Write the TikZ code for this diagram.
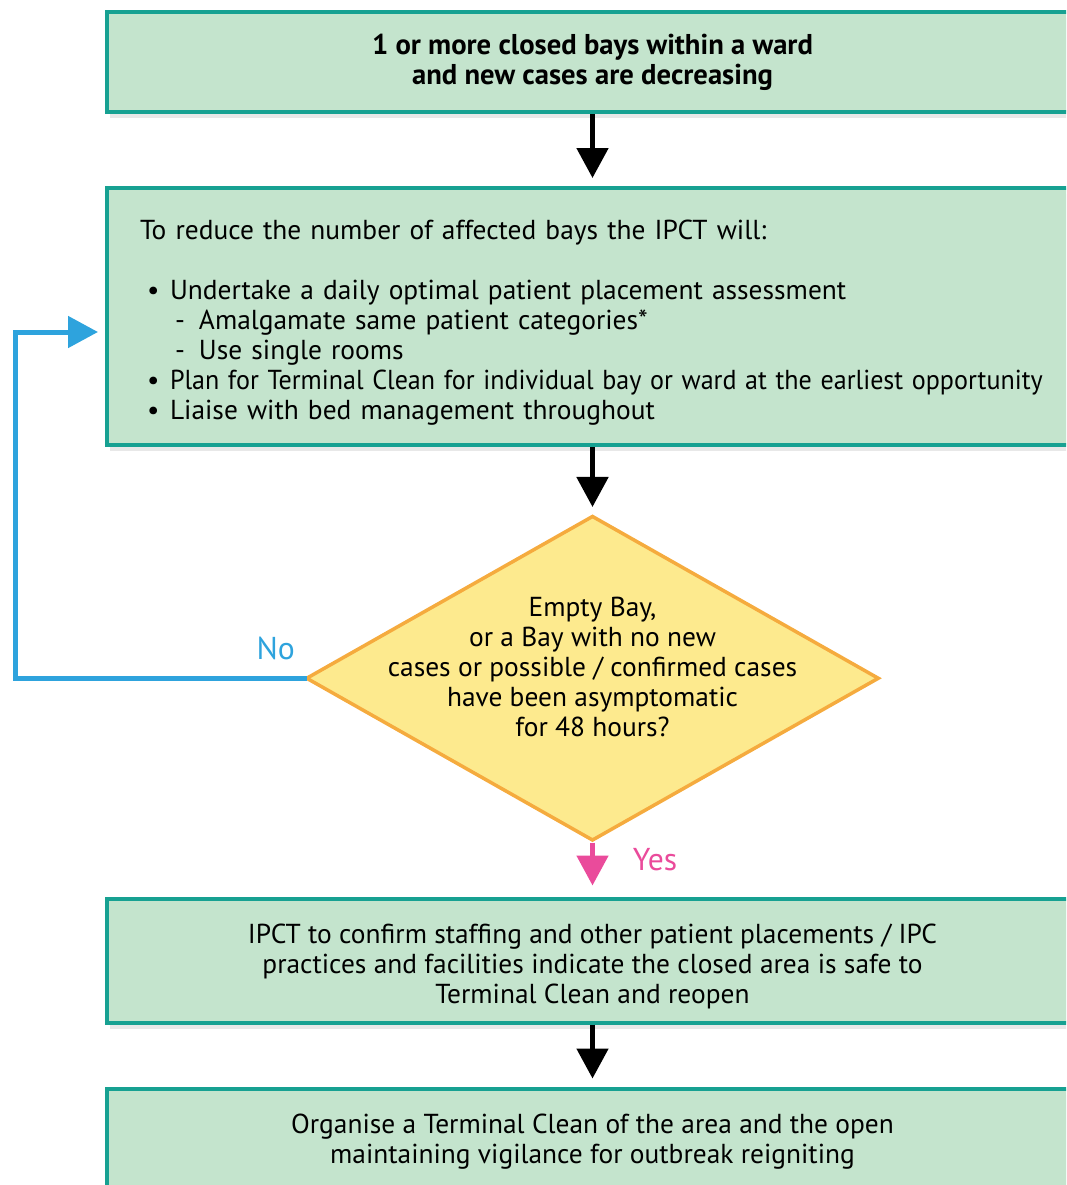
\documentclass[tikz,border=0pt]{standalone}
\usepackage{fontspec}
\setmainfont{PT Sans}
\usepackage{xcolor}
\usepackage{graphicx}
\usetikzlibrary{shapes.geometric, arrows.meta, positioning, shadows}

\definecolor{boxfill}{HTML}{C4E4CD}
\definecolor{boxline}{HTML}{17A192}
\definecolor{decfill}{HTML}{FDEA8E}
\definecolor{decline}{HTML}{F5AB3E}
\definecolor{noblue}{HTML}{2EA3DD}
\definecolor{yespink}{HTML}{EA4B9B}

\newcommand{\ptitem}[1]{\hspace*{0.14cm}\makebox[0.46cm][l]{\textbullet}#1}
\newcommand{\subpt}[1]{\hspace*{0.7cm}\makebox[0.48cm][l]{-}#1}
\newcommand{\topgap}{\rule{0pt}{18pt}}

\begin{document}
\begin{tikzpicture}[
    stage/.style={rectangle, draw=boxline, line width=0.08cm, fill=boxfill, minimum width=19.42cm, align=center,
        drop shadow={shadow xshift=0.06cm, shadow yshift=-0.12cm, opacity=0.18}},
    decision/.style={diamond, draw=decline, line width=0.07cm, fill=decfill, minimum width=11.46cm, minimum height=6.5cm, inner sep=0pt},
    arrow/.style={-{Triangle[width=0.62cm,length=0.6cm]}, line width=0.1cm},
    answer/.style={font=\fontsize{18}{20}\selectfont, inner sep=0pt},
    every node/.append style={font=\fontsize{15.6}{17.07}\selectfont}
]
    \path[use as bounding box, clip] (0,0) rectangle (21.32,-23.7);

    \node[stage, minimum height=2cm, font=\fontsize{16.3}{17.07}\selectfont\bfseries] (start) at (11.85,-1.24)
        {1 or more closed bays within a ward\\and new cases are decreasing};
    \node[stage, minimum height=5.14cm, align=left, text width=18.1cm, inner xsep=0.66cm, below=1.44cm of start] (reduce)
        {\topgap To reduce the number of affected bays the IPCT will:\\[17.07pt]
         \ptitem{Undertake a daily optimal patient placement assessment}\\
         \subpt{Amalgamate same patient categories*}\\
         \subpt{Use single rooms}\\
         \ptitem{\scalebox{0.95}[1]{Plan for Terminal Clean for individual bay or ward at the earliest opportunity}}\\
         \ptitem{Liaise with bed management throughout}};
    \node[decision, below=1.34cm of reduce,
        label={[align=center, yshift=0.23cm]center:{Empty Bay,\\or a Bay with no new\\cases or possible / confirmed cases\\have been asymptomatic\\for 48 hours?}}] (check) {};
    \node[stage, minimum height=2.48cm, below=1.08cm of check] (confirm)
        {\topgap IPCT to confirm staffing and other patient placements / IPC\\practices and facilities indicate the closed area is safe to\\Terminal Clean and reopen};
    \node[stage, minimum height=2.12cm, below=1.24cm of confirm] (organise)
        {Organise a Terminal Clean of the area and the open\\maintaining vigilance for outbreak reigniting};

    \coordinate (loop) at (0.3,-6.64);

    \draw[arrow, shorten >=0.16cm] (start) -- (reduce);
    \draw[arrow, shorten >=0.14cm] (reduce) -- (check);
    \draw[arrow, yespink, shorten >=0.22cm] (check) -- (confirm);
    \draw[arrow, shorten >=0.16cm] (confirm) -- (organise);
    \draw[arrow, noblue, line cap=rect] (check.west) -| (loop) -- ([xshift=-0.14cm]reduce.west |- loop);

    \node[answer, text=noblue, above left=0.36cm and 0.18cm of check.west] (no) {No};
    \node[answer, text=yespink, below right=0.1cm and 0.8cm of check.south] (yes) {Yes};
\end{tikzpicture}
\end{document}
